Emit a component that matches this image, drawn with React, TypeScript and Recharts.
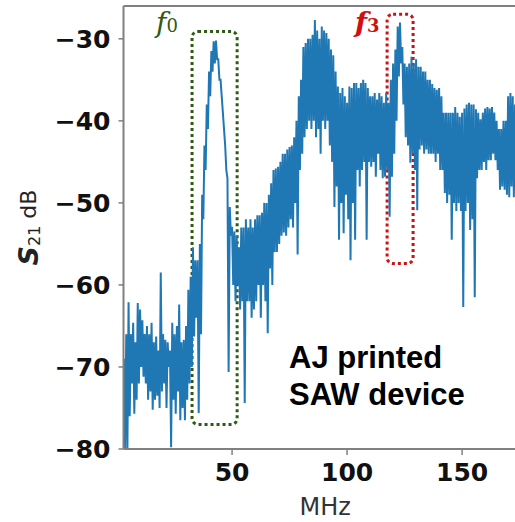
import { LineChart, Line, XAxis, YAxis, ReferenceLine, ReferenceArea, Label } from 'recharts';

// S21 magnitude read off the plot, sampled every 0.5 MHz from 3 MHz
// (each row = 10 MHz, pairs of upper / lower excursions of the noisy trace)
const F_START_MHZ = 3;
const F_STEP_MHZ = 0.5;
const S21_DB = [
  -69, -80, -66, -80, -62.1, -76, -66, -72, -64.6, -75.7, -67, -74, -62.2, -72, -63, -70, -64.3, -71.2, -66, -72,
  -65, -74, -66, -73, -64.6, -75.2, -67, -74, -66.3, -73.5, -68, -75, -58.5, -73, -66, -72, -66.7, -75, -67, -70,
  -68, -79.8, -64.6, -74, -66, -75.7, -65, -73, -62.4, -76.5, -67, -75, -66.7, -76.5, -65, -74, -60.6, -72, -59, -70,
  -55.4, -66.3, -57, -64, -57, -75.6, -55, -66, -49, -52, -43, -46, -38, -41, -34, -37, -31.5, -34, -30.3, -33,
  -30.2, -32.5, -32.5, -35, -35, -37, -39, -41, -43, -46, -47, -70.6, -50.5, -54, -52.9, -60, -53.5, -62, -54, -60,
  -55.4, -63, -53, -62, -53, -74.4, -52, -62, -53, -62, -52, -64, -53, -63, -52, -62, -51.5, -60, -51.5, -64,
  -51.2, -60, -50, -62, -50, -65.9, -49, -58, -47.6, -60, -46, -56, -45.8, -56, -45.6, -55, -45, -54, -44, -53.6,
  -44, -54, -43.5, -53, -43.2, -52, -43, -53, -42, -50, -40, -56.3, -37, -46, -35, -44, -31, -42, -30.5, -41,
  -30, -40, -30, -41, -29.5, -40, -27.7, -42, -29, -41, -30, -44, -28.5, -40, -29, -41, -29.3, -40, -30, -43,
  -31.3, -45, -32, -50.5, -34, -48, -35.8, -54.5, -36.6, -50, -36, -53.7, -37, -49, -37.8, -52, -35.8, -57, -36, -50,
  -35.4, -54.5, -35.4, -46, -36, -48, -35.4, -46, -35, -45, -35.4, -54.5, -36, -45, -37, -45.6, -37, -45, -36.6, -46.8,
  -37.4, -44, -36.6, -46, -37, -47, -37.8, -46.8, -36.6, -46, -37.8, -51.7, -35, -46.8, -33, -44, -31.3, -40, -28.5, -34.6,
  -28, -33, -31, -38, -33, -42, -33.4, -43, -33, -45.1, -32.2, -44, -33, -46, -32.5, -50.9, -33.4, -43.5, -33.4, -43,
  -34, -44, -34, -43.5, -35, -44, -35, -44, -35.5, -44, -36, -45, -36.2, -44, -36, -46, -37, -46, -39, -48.8,
  -39, -50, -39, -49, -39, -54.5, -39, -50, -38.3, -51, -39, -50, -39.5, -51, -39, -62.7, -38.5, -51, -38, -50,
  -37.8, -53.3, -38, -52, -38, -61.5, -38.6, -47, -39, -46, -39.8, -46, -39, -45, -38.5, -46, -38.3, -44.8, -38.5, -44.8,
  -38.3, -44, -39, -44.8, -40, -46, -41, -48.4, -41, -48, -40, -48.4, -40, -49, -37, -49.3, -36.6, -48, -37, -49.3,
  -38,
];

const X_TICKS = [50, 100, 150];
const Y_TICKS = [-80, -70, -60, -50, -40, -30];

// highlighted resonance windows [x1, x2, y1, y2]
const F0_BOX = [32.6, 52.2, -77, -29.1];
const F3_BOX = [117.4, 128.7, -57.4, -27];

const data = S21_DB.map((v, i) => ({ f: F_START_MHZ + i * F_STEP_MHZ, s21: v }));

const AXIS_GREY = '#808080';
const tickStyle = { fontFamily: 'DejaVu Sans', fontWeight: 700, fontSize: 25, fill: '#111' };
const minus = (v: number) => String(v).replace('-', '\u2212');

function dottedBox(color: string) {
  return (p: any) => (
    <rect x={p.x} y={p.y} width={p.width} height={p.height} rx={6} fill="none"
      stroke={color} strokeWidth={3} strokeDasharray="3 3" />
  );
}

function YLabel(props: any) {
  const vb = props.viewBox || {};
  const cx = 28;
  const cy = (vb.y ?? 6) + (vb.height ?? 443) / 2;
  return (
    <text x={cx} y={cy} transform={`rotate(-90 ${cx} ${cy})`} textAnchor="middle"
      dominantBaseline="central" fill="#222" fontFamily="DejaVu Sans">
      <tspan fontWeight={700} fontStyle="italic" fontSize={27}>S</tspan>
      <tspan fontSize={16} dy={6}>21</tspan>
      <tspan fontSize={22} dy={-6}> dB</tspan>
    </text>
  );
}

export default function App() {
  return (
    <div style={{ position: 'absolute', left: 0, top: 0, width: 515, height: 522, background: '#fff', overflow: 'hidden' }}>
      <LineChart width={515} height={522} data={data} margin={{ top: 6, right: 0, bottom: 0, left: 0 }}>
        <XAxis dataKey="f" type="number" domain={[2.8, 173]} ticks={X_TICKS} allowDataOverflow
          height={73} tickSize={6} tickMargin={8} tick={tickStyle}
          axisLine={{ stroke: AXIS_GREY, strokeWidth: 2 }} tickLine={{ stroke: AXIS_GREY, strokeWidth: 1.5 }}>
          <Label value="MHz" position="insideBottom" offset={7} dx={6} fill="#333" fontSize={24} fontFamily="DejaVu Sans" />
        </XAxis>
        <YAxis type="number" domain={[-80, -26]} ticks={Y_TICKS} allowDataOverflow width={123.5}
          tickSize={5} tickMargin={8} tick={tickStyle} tickFormatter={minus}
          axisLine={{ stroke: AXIS_GREY, strokeWidth: 2 }} tickLine={{ stroke: AXIS_GREY, strokeWidth: 1.5 }}>
          <Label content={<YLabel />} />
        </YAxis>
        <ReferenceLine y={-26} stroke={AXIS_GREY} strokeWidth={2} />
        <Line dataKey="s21" stroke="#1f77b4" strokeWidth={2} dot={false} isAnimationActive={false} />
        <ReferenceArea x1={F0_BOX[0]} x2={F0_BOX[1]} y1={F0_BOX[2]} y2={F0_BOX[3]} shape={dottedBox('#2f5a14')} />
        <ReferenceArea x1={F3_BOX[0]} x2={F3_BOX[1]} y1={F3_BOX[2]} y2={F3_BOX[3]} shape={dottedBox('#d01010')} />
      </LineChart>
      <div style={{ position: 'absolute', left: 156, top: 8, fontFamily: 'DejaVu Serif', fontStyle: 'italic', color: '#2f5a14', fontSize: 28, lineHeight: '30px' }}>
        f<sub style={{ fontSize: 18, fontStyle: 'normal', verticalAlign: 'baseline' }}>0</sub>
      </div>
      <div style={{ position: 'absolute', left: 355, top: 8, fontFamily: 'DejaVu Serif', fontStyle: 'italic', fontWeight: 700, color: '#d01010', fontSize: 28, lineHeight: '30px' }}>
        f<sub style={{ fontSize: 18, fontStyle: 'normal', verticalAlign: 'baseline' }}>3</sub>
      </div>
      <div style={{ position: 'absolute', left: 289, top: 339, fontFamily: 'Liberation Sans', fontWeight: 700, color: '#000', fontSize: 31, lineHeight: '37px' }}>
        AJ printed<br />SAW device
      </div>
    </div>
  );
}
